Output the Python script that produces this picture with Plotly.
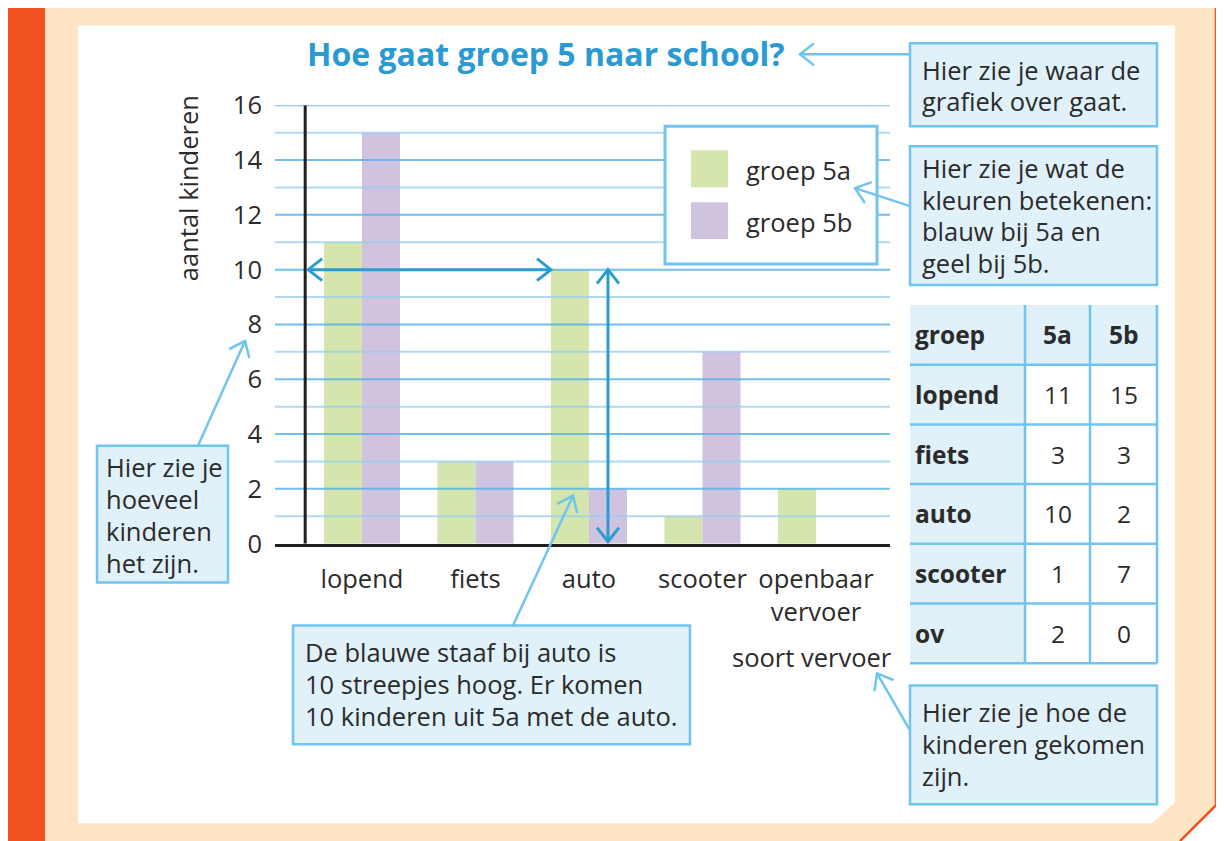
import math
import plotly.graph_objects as go

W, H = 1224, 841
# the viewer puts the figure 8 px in from the left, and shows it from 24.6 px
# down with a vertical scale of 0.961; positions below are in picture pixels
OFF_X = 8
OFF_Y, SCALE_Y = 24.6, 0.961

# data
categories = ["lopend", "fiets", "auto", "scooter", "openbaar vervoer"]
tick_labels = ["lopend", "fiets", "auto", "scooter", "openbaar<br>vervoer"]
table_labels = ["lopend", "fiets", "auto", "scooter", "ov"]
groep_5a = [11, 3, 10, 1, 2]
groep_5b = [15, 3, 2, 7, 0]
series_names = ["groep 5a", "groep 5b"]
table_head = ["groep", "5a", "5b"]
y_ticks = [0, 2, 4, 6, 8, 10, 12, 14, 16]

FONT = "'Open Sans', Lato, sans-serif"
FS = 25.5
TXT = "#2B2B2B"
ORANGE = "#F1511F"
BEIGE = "#FDE4C4"
BOX_FILL = "#E1F1FA"
BOX_LINE = "#70C4EE"
TITLE_BLUE = "#2A9AD2"
ARROW_BLUE = "#2B9CCF"
GRID_DARK = "rgba(88,180,230,0.85)"
GRID_LIGHT = "rgba(150,205,238,0.75)"
GREEN = "#D5E5AE"
PURPLE = "#D0C3E0"

# plot area in pixels and axis ranges
PX_L, PX_R, PX_T, PX_B = 275, 890, 104, 543
XR = [-0.766, 4.652]
YR = [0, 16]
BARGAP = 0.33


def fx(x):
    return (x - OFF_X) / W


def fy(y):
    return 1 - (y - OFF_Y) / SCALE_Y / H


def dx(v):  # data x -> pixel
    return PX_L + (v - XR[0]) / (XR[1] - XR[0]) * (PX_R - PX_L)


def dy(v):  # data y -> pixel
    return PX_B - (v - YR[0]) / (YR[1] - YR[0]) * (PX_B - PX_T)


shapes = []
annotations = []


def path(pts, close=True):
    s = "M " + " L ".join(f"{fx(x):.5f},{fy(y):.5f}" for x, y in pts)
    return s + (" Z" if close else "")


def poly(pts, fill, layer="below"):
    shapes.append(dict(type="path", xref="paper", yref="paper", path=path(pts),
                       fillcolor=fill, line=dict(width=0), layer=layer))


def rect(x0, y0, x1, y1, fill, line_color=None, lw=0, layer="above"):
    shapes.append(dict(type="rect", xref="paper", yref="paper",
                       x0=fx(x0), x1=fx(x1), y0=fy(y1), y1=fy(y0),
                       fillcolor=fill, line=dict(color=line_color or fill, width=lw),
                       layer=layer))


def seg(x0, y0, x1, y1, color, w, layer="above"):
    shapes.append(dict(type="line", xref="paper", yref="paper",
                       x0=fx(x0), y0=fy(y0), x1=fx(x1), y1=fy(y1),
                       line=dict(color=color, width=w), layer=layer))


def head(xt, yt, xf, yf, color, w, back=14, side=11):
    d = math.hypot(xt - xf, yt - yf)
    ux, uy = (xt - xf) / d, (yt - yf) / d
    nx, ny = -uy, ux
    a = (xt - back * ux + side * nx, yt - back * uy + side * ny)
    b = (xt - back * ux - side * nx, yt - back * uy - side * ny)
    shapes.append(dict(type="path", xref="paper", yref="paper",
                       path=path([a, (xt, yt), b], close=False),
                       fillcolor="rgba(0,0,0,0)", line=dict(color=color, width=w),
                       layer="above"))


def arrow(x0, y0, x1, y1, color=BOX_LINE, w=2.5, both=False):
    seg(x0, y0, x1, y1, color, w)
    head(x1, y1, x0, y0, color, w)
    if both:
        head(x0, y0, x1, y1, color, w)


def text(x, y, s, size=FS, color=TXT, anchor="left", bold=False, angle=0):
    annotations.append(dict(xref="paper", yref="paper", x=fx(x), y=fy(y), text=s,
                            showarrow=False, xanchor=anchor, yanchor="middle",
                            textangle=angle,
                            font=dict(family=FONT, size=size, color=color,
                                      weight="bold" if bold else "normal")))


def callout(x0, y0, x1, y1, lines, first_y, step=32, tx=None):
    rect(x0, y0, x1, y1, BOX_FILL, BOX_LINE, 2.5)
    for i, ln in enumerate(lines):
        text(tx if tx is not None else x0 + 10, first_y + i * step, ln)


# frame
poly([(45, 5), (1216, 5), (1216, 805), (1180, 841), (45, 841)], BEIGE)
poly([(78, 24), (1175, 24), (1175, 802), (1152, 823), (78, 823)], "white")
rect(0, 0, 45, 860, ORANGE, layer="below")
seg(45, 4.5, 1217, 4.5, ORANGE, 2.5, layer="below")
shapes.append(dict(type="path", xref="paper", yref="paper",
                   path=path([(1216, 4), (1216, 805), (1180, 841)], close=False),
                   fillcolor="rgba(0,0,0,0)", line=dict(color=ORANGE, width=2.5),
                   layer="below"))

# gridlines over the bars
for v in range(YR[0] + 1, YR[1] + 1):
    shapes.append(dict(type="line", xref="x domain", yref="y", x0=0, x1=1, y0=v, y1=v,
                       line=dict(color=GRID_DARK if v % 2 == 0 else GRID_LIGHT, width=2),
                       layer="above"))
# vertical axis line at the left category boundary
shapes.append(dict(type="line", xref="x", yref="y", x0=-0.5, x1=-0.5, y0=YR[0], y1=YR[1],
                   line=dict(color="#231F20", width=3), layer="above"))

# reading arrows for "auto"
half = (1 - BARGAP) / 2
auto_i = categories.index("auto")
arrow(dx(-0.5) + 3, dy(groep_5a[auto_i]), dx(auto_i - half), dy(groep_5a[auto_i]),
      ARROW_BLUE, 3, both=True)
arrow(dx(auto_i + half / 2), dy(groep_5a[auto_i]), dx(auto_i + half / 2), dy(0) - 2,
      ARROW_BLUE, 3, both=True)

# legend
rect(665, 125, 877, 263, "white", BOX_LINE, 3)
for i, (name, col) in enumerate(zip(series_names, [GREEN, PURPLE])):
    top = 149 + i * 52
    rect(691, top, 728, top + 37, col)
    text(744, top + 20, name)

# titles
text(546, 52, "Hoe gaat groep 5 naar school?", size=32, color=TITLE_BLUE,
     anchor="center", bold=True)
text(188, 187, "aantal kinderen", anchor="center", angle=-90)
text(812, 657, "soort vervoer", anchor="center")

# callouts
callout(910, 42, 1157, 125, ["Hier zie je waar de", "grafiek over gaat."], 69, 31)
callout(910, 145, 1157, 284, ["Hier zie je wat de", "kleuren betekenen:",
                              "blauw bij 5a en", "geel bij 5b."], 167, 31.5)
callout(97, 445, 228, 582, ["Hier zie je", "hoeveel", "kinderen", "het zijn."], 466, 32, tx=104)
callout(293, 625, 690, 744, ["De blauwe staaf bij auto is", "10 streepjes hoog. Er komen",
                             "10 kinderen uit 5a met de auto."], 652, 32)
callout(910, 685, 1157, 804, ["Hier zie je hoe de", "kinderen gekomen", "zijn."], 712, 32)

arrow(910, 53, 800, 53)
arrow(910, 205, 855, 187)
arrow(198, 445, 245, 340)
arrow(513, 625, 573, 495)
arrow(910, 730, 877, 673)

# table
cols = [910, 1025, 1090, 1157]
rows = [304 + i * 59.8 for i in range(len(table_labels) + 2)]
for r in range(len(rows) - 1):
    for c in range(len(cols) - 1):
        fill = BOX_FILL if (r == 0 or c == 0) else "white"
        rect(cols[c], rows[r], cols[c + 1], rows[r + 1], fill)
for xv in cols[1:]:
    seg(xv, rows[0], xv, rows[-1], BOX_LINE, 2.5)
for yv in rows[1:]:
    seg(cols[0], yv, cols[-1], yv, BOX_LINE, 2.5)
table_rows = [table_head] + [[lab, str(a), str(b)]
                             for lab, a, b in zip(table_labels, groep_5a, groep_5b)]
for r, row in enumerate(table_rows):
    ymid = (rows[r] + rows[r + 1]) / 2
    for c, val in enumerate(row):
        if c == 0:
            text(cols[0] + 3, ymid, val, size=24.5, bold=True)
        else:
            text((cols[c] + cols[c + 1]) / 2, ymid, val, size=24.5, anchor="center",
                 bold=(r == 0))

fig = go.Figure()
fig.add_trace(go.Bar(x=categories, y=groep_5a, name=series_names[0],
                     marker=dict(color=GREEN, line=dict(width=0))))
fig.add_trace(go.Bar(x=categories, y=groep_5b, name=series_names[1],
                     marker=dict(color=PURPLE, line=dict(width=0))))

fig.update_layout(
    width=W, height=H,
    margin=dict(l=0, r=0, t=0, b=0),
    paper_bgcolor="white",
    plot_bgcolor="rgba(0,0,0,0)",
    showlegend=False,
    barmode="group",
    bargap=BARGAP,
    bargroupgap=0,
    font=dict(family=FONT, color=TXT),
    xaxis=dict(domain=[fx(PX_L), fx(PX_R)], range=XR, tickvals=categories,
               ticktext=tick_labels, showgrid=False, zeroline=False, showline=True,
               linecolor="#231F20", linewidth=3, ticks="", ticklabelstandoff=11,
               tickfont=dict(size=FS, color=TXT), fixedrange=True),
    yaxis=dict(domain=[fy(PX_B), fy(PX_T)], range=YR, tickvals=y_ticks,
               showgrid=False, zeroline=False, showline=False, ticks="",
               ticklabelstandoff=12, tickfont=dict(size=FS, color=TXT), fixedrange=True),
    shapes=shapes,
    annotations=annotations,
)

fig.write_html("out.html")
